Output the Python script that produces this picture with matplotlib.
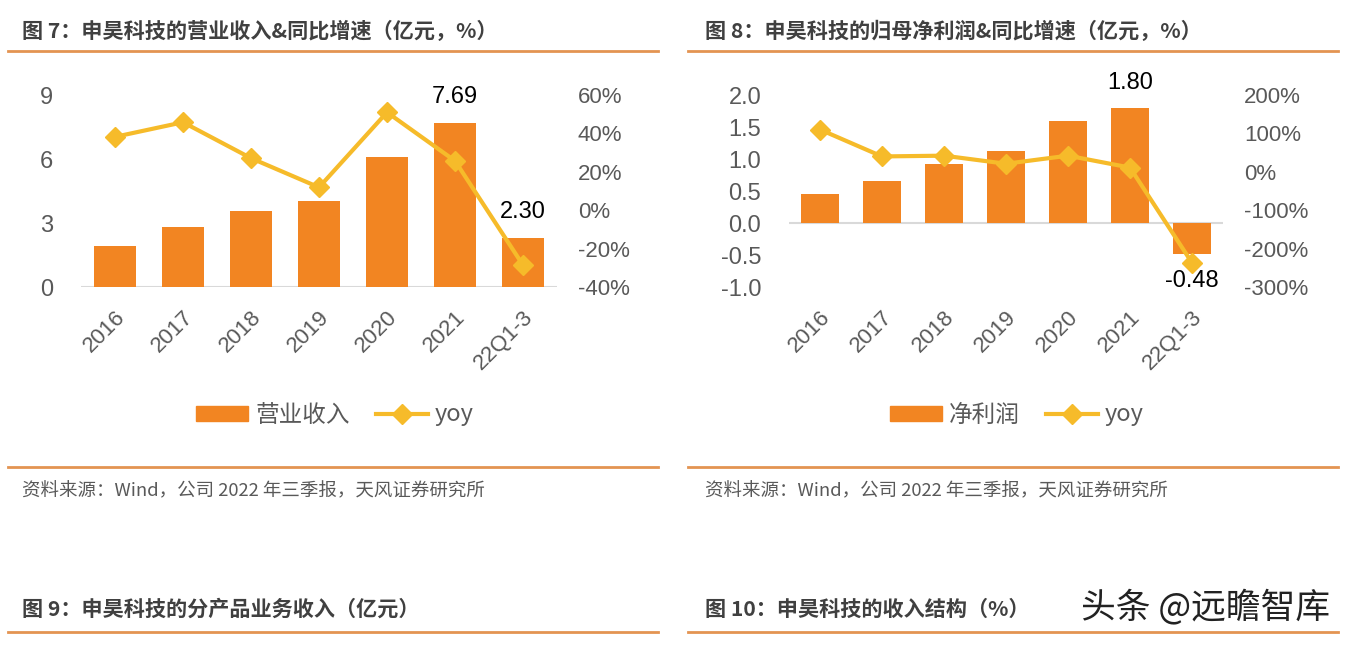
import numpy as np
import matplotlib
matplotlib.use("Agg")
import matplotlib.pyplot as plt
from matplotlib import font_manager
from matplotlib.lines import Line2D
from matplotlib.patches import Patch

plt.rcParams['font.family'] = ['Liberation Sans', 'Noto Sans CJK SC', 'DejaVu Sans']
installed = {f.name for f in font_manager.fontManager.ttflist}
NARROW = 'Liberation Sans Narrow' if 'Liberation Sans Narrow' in installed else 'Liberation Sans'

# ---- data ----
categories = ['2016', '2017', '2018', '2019', '2020', '2021', '22Q1-3']
revenue = [1.90, 2.83, 3.58, 4.01, 6.10, 7.69, 2.30]
revenue_yoy = [38.2, 45.8, 27.1, 11.9, 51.0, 25.7, -28.6]
profit = [0.46, 0.65, 0.92, 1.12, 1.60, 1.80, -0.48]
profit_yoy = [110, 40, 42, 21, 42, 11, -237]

BAR = '#F28522'
LINE = '#F6BB2A'
GRAY = '#595959'
RULE = '#E39452'
CJK = ['Noto Sans CJK SC', 'Liberation Sans', 'DejaVu Sans']

fig = plt.figure(figsize=(13.48, 6.45), dpi=100)
W, H = 1348, 645


def fx(px):
    return px / W


def fy(py):
    return 1 - py / H


def rule(x0, x1, y):
    fig.add_artist(Line2D([fx(x0), fx(x1)], [fy(y), fy(y)], color=RULE, lw=2))


def panel(left_px, right_px, vals, yoy, ylim, yticks, ytl, y2lim, y2ticks, y2tl,
          labels, legend_name, legend_x):
    ax = fig.add_axes([fx(left_px), fy(287), fx(right_px - left_px), (287 - 95) / H])
    x = np.arange(len(categories))
    ax.bar(x, vals, width=0.62, color=BAR, zorder=2)
    ax.axhline(0, color='#D9D9D9', lw=1.5, zorder=1)
    ax.set_xlim(-0.5, len(categories) - 0.5)
    ax.set_ylim(*ylim)
    ax.set_yticks(yticks)
    ax.set_yticklabels(ytl, fontsize=17, color=GRAY)
    ax.set_xticks(x)
    ax.set_xticklabels(categories, rotation=45, ha='right', rotation_mode='anchor',
                       fontsize=16, color=GRAY)
    ax.tick_params(axis='y', length=0, pad=20)
    ax.tick_params(axis='x', length=0, pad=14)
    for s in ax.spines.values():
        s.set_visible(False)
    for i, off, va in labels:
        ax.text(i, vals[i] + off, f'{vals[i]:.2f}', ha='center', va=va,
                fontsize=17, color='black')

    ax2 = ax.twinx()
    ax2.plot(x, yoy, color=LINE, lw=3, marker='D', markersize=10, zorder=3)
    ax2.set_ylim(*y2lim)
    ax2.set_yticks(y2ticks)
    ax2.set_yticklabels(y2tl, fontsize=16, color=GRAY, family=NARROW)
    ax2.tick_params(length=0, pad=15)
    for s in ax2.spines.values():
        s.set_visible(False)

    handles = [Patch(color=BAR),
               Line2D([0], [0], color=LINE, lw=3, marker='D', markersize=10)]
    fig.legend(handles, [legend_name, 'yoy'], loc='center',
               bbox_to_anchor=(fx(legend_x), fy(415)), ncol=2, frameon=False,
               prop={'family': CJK, 'size': 17}, labelcolor=GRAY,
               handlelength=2.2, handleheight=0.6, columnspacing=1.1,
               handletextpad=0.3)


panel(81, 557, revenue, revenue_yoy, (0, 9), [0, 3, 6, 9], ['0', '3', '6', '9'],
      (-40, 60), [-40, -20, 0, 20, 40, 60],
      ['-40%', '-20%', '0%', '20%', '40%', '60%'],
      [(5, 0.7, 'bottom'), (6, 0.7, 'bottom')], '营业收入', 335)

panel(789, 1223, profit, profit_yoy, (-1, 2), [-1, -0.5, 0, 0.5, 1, 1.5, 2],
      ['-1.0', '-0.5', '0.0', '0.5', '1.0', '1.5', '2.0'],
      (-300, 200), [-300, -200, -100, 0, 100, 200],
      ['-300%', '-200%', '-100%', '0%', '100%', '200%'],
      [(5, 0.22, 'bottom'), (6, -0.26, 'top')], '净利润', 1017)

# ---- titles, rules, sources ----
fig.text(fx(22), fy(31), '图 7：申昊科技的营业收入&同比增速（亿元，%）', family=CJK,
         fontsize=15.2, fontweight='bold', color='#404040', va='center')
fig.text(fx(705), fy(31), '图 8：申昊科技的归母净利润&同比增速（亿元，%）', family=CJK,
         fontsize=15.2, fontweight='bold', color='#404040', va='center')
rule(8, 658, 51)
rule(688, 1338, 51)
rule(8, 658, 467)
rule(688, 1338, 467)
src = '资料来源：Wind，公司 2022 年三季报，天风证券研究所'
fig.text(fx(22), fy(491), src, family=CJK, fontsize=13.3, color=GRAY, va='center')
fig.text(fx(705), fy(491), src, family=CJK, fontsize=13.3, color=GRAY, va='center')

fig.text(fx(22), fy(609), '图 9：申昊科技的分产品业务收入（亿元）', family=CJK,
         fontsize=15.2, fontweight='bold', color='#404040', va='center')
fig.text(fx(705), fy(609), '图 10：申昊科技的收入结构（%）', family=CJK,
         fontsize=15.2, fontweight='bold', color='#404040', va='center')
rule(8, 658, 632)
rule(688, 1338, 632)
fig.text(fx(1330), fy(607), '头条 @远瞻智库', family=CJK, fontsize=25,
         color='#222222', ha='right', va='center')

fig.savefig('out.png', dpi=100)
